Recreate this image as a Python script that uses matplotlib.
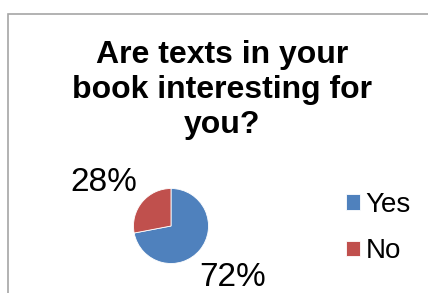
import matplotlib
matplotlib.use("Agg")
import matplotlib.pyplot as plt
from matplotlib.patches import Rectangle

plt.rcParams['font.family'] = ['Liberation Sans', 'DejaVu Sans']

title = "Are texts in your\nbook interesting for\nyou?"
labels = ["Yes", "No"]
shares = [72, 28]
colors = ["#4F81BD", "#C0504D"]

W, H = 428, 293
fig = plt.figure(figsize=(W / 100, H / 100), dpi=100)

# chart area border (cropped on the right and bottom)
fig.patches.append(Rectangle((8 / W, -0.1), 1.2, 1 - 14 / H + 0.1,
                             transform=fig.transFigure, fill=False,
                             edgecolor="#a6a6a6", linewidth=1.2))

fig.text(222 / W, 1 - 40 / H, title, ha="center", va="top",
         fontsize=23, fontweight="bold", linespacing=1.22)

# pie axes: center at (171, 226) px, radius ~37.5 px
R = 37.5
cx, cy = 171, H - 226
span = 6 * R
ax = fig.add_axes([(cx - span / 2) / W, (cy - span / 2) / H, span / W, span / H])
wedges, _, autotexts = ax.pie(shares, colors=colors, startangle=90, counterclock=False,
                              autopct="%d%%", pctdistance=2.15,
                              wedgeprops=dict(edgecolor="white", linewidth=0.6),
                              textprops=dict(fontsize=24, color="black"))
ax.set_xlim(-3, 3)
ax.set_ylim(-3, 3)
ax.set_aspect("equal")
ax.axis("off")
# nudge the small-slice label like the original layout
x, y = autotexts[1].get_position()
autotexts[1].set_position((x - 0.13, y - 0.2))
for t in autotexts:
    t.set_clip_on(False)

fig.legend(wedges, labels, loc="center left", bbox_to_anchor=(332 / W, 1 - 228 / H),
           frameon=False, fontsize=20, handlelength=0.5, handleheight=0.5,
           handletextpad=0.2, labelspacing=0.75, borderpad=0)

fig.savefig("out.png", dpi=100)
